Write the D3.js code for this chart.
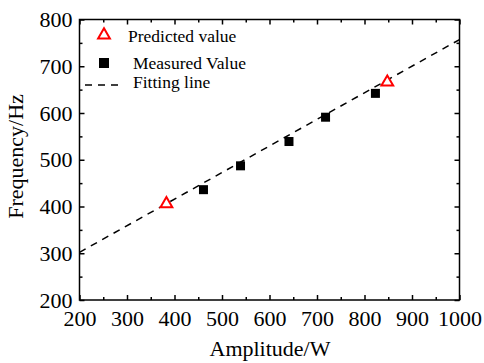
<!DOCTYPE html>
<html><head><meta charset="utf-8">
<script src="https://cdn.jsdelivr.net/npm/d3@7"></script>
<style>body{margin:0;background:#fff}svg{display:block}text{font-family:"Liberation Serif","Times New Roman",serif}</style>
</head><body><svg id="c" width="484" height="363"></svg>
<script>
const predictedX = [383, 848];
const predictedY = [408, 668];
const measuredX = [461, 539, 641, 718, 823];
const measuredY = [436, 487, 539, 591, 642];
const fitX = [200, 1000];
const fitY = [302, 757];
const xTicks = [200, 300, 400, 500, 600, 700, 800, 900, 1000];
const yTicks = [200, 300, 400, 500, 600, 700, 800];
const legendLabels = ["Predicted value", "Measured Value", "Fitting line"];

const svg = d3.select("#c");
const L = 79.5, R = 459.5, T = 19.5, B = 300;
const x = d3.scaleLinear().domain([200, 1000]).range([L, R]);
const y = d3.scaleLinear().domain([200, 800]).range([B, T]);

// fitting line
svg.append("path")
  .datum(fitX.map((v, i) => [v, fitY[i]]))
  .attr("d", d3.line().x(d => x(d[0])).y(d => y(d[1])))
  .attr("fill", "none").attr("stroke", "#000").attr("stroke-width", 1.5)
  .attr("stroke-dasharray", "7,6");

// measured squares
const sq = 9;
svg.selectAll("rect.m").data(measuredX).enter().append("rect")
  .attr("x", (d) => x(d) - sq / 2).attr("y", (d, i) => y(measuredY[i]) - sq / 2)
  .attr("width", sq).attr("height", sq).attr("fill", "#000");

// predicted triangles
const tri = d3.symbol().type(d3.symbolTriangle).size(60);
svg.selectAll("path.p").data(predictedX).enter().append("path")
  .attr("d", tri)
  .attr("transform", (d, i) => `translate(${x(d)},${y(predictedY[i]) + 1})`)
  .attr("fill", "#fff").attr("stroke", "#f00").attr("stroke-width", 2);

// axes
const fs = 22;
function axisGroup(axis, tx, ty) {
  const g = svg.append("g").attr("transform", `translate(${tx},${ty})`).call(axis);
  g.select(".domain").remove();
  g.selectAll("line").attr("stroke", "#000").attr("stroke-width", 1.5);
  g.selectAll("text").attr("font-size", fs).attr("fill", "#000")
    .style("font-family", '"Liberation Serif", serif');
  return g;
}
const xMinor = d3.range(250, 1000, 100);
const yMinor = d3.range(250, 800, 100);
// bottom
axisGroup(d3.axisBottom(x).tickValues(xTicks).tickSize(-5).tickPadding(10.5).tickFormat(d3.format("d")), 0, B);
axisGroup(d3.axisBottom(x).tickValues(xMinor).tickSize(-3).tickFormat(""), 0, B);
// top
axisGroup(d3.axisTop(x).tickValues(xTicks).tickSize(-5).tickFormat(""), 0, T);
axisGroup(d3.axisTop(x).tickValues(xMinor).tickSize(-3).tickFormat(""), 0, T);
// left
axisGroup(d3.axisLeft(y).tickValues(yTicks).tickSize(-5).tickPadding(7).tickFormat(d3.format("d")), L, 0);
axisGroup(d3.axisLeft(y).tickValues(yMinor).tickSize(-3).tickFormat(""), L, 0);
// right
axisGroup(d3.axisRight(y).tickValues(yTicks).tickSize(-5).tickFormat(""), R, 0);
axisGroup(d3.axisRight(y).tickValues(yMinor).tickSize(-3).tickFormat(""), R, 0);

svg.append("rect").attr("x", L).attr("y", T).attr("width", R - L).attr("height", B - T)
  .attr("fill", "none").attr("stroke", "#000").attr("stroke-width", 1.5);

// axis titles
const tfs = 22;
svg.append("text").attr("x", 270).attr("y", 356).attr("text-anchor", "middle")
  .attr("font-size", tfs).text("Amplitude/W");
svg.append("text").attr("transform", `translate(23,156.5) rotate(-90)`)
  .attr("text-anchor", "middle").attr("font-size", tfs).text("Frequency/Hz");

// legend
const lfs = 17.5;
svg.append("path").attr("d", tri).attr("transform", "translate(104,35)")
  .attr("fill", "#fff").attr("stroke", "#f00").attr("stroke-width", 2);
svg.append("text").attr("x", 128).attr("y", 42).attr("font-size", lfs).text(legendLabels[0]);
svg.append("rect").attr("x", 99).attr("y", 58).attr("width", 10).attr("height", 10).attr("fill", "#000");
svg.append("text").attr("x", 133).attr("y", 69).attr("font-size", lfs).text(legendLabels[1]);
svg.append("line").attr("x1", 85).attr("x2", 119).attr("y1", 85).attr("y2", 85)
  .attr("stroke", "#000").attr("stroke-width", 1.5).attr("stroke-dasharray", "7,6");
svg.append("text").attr("x", 133).attr("y", 87.5).attr("font-size", lfs).text(legendLabels[2]);
</script></body></html>
